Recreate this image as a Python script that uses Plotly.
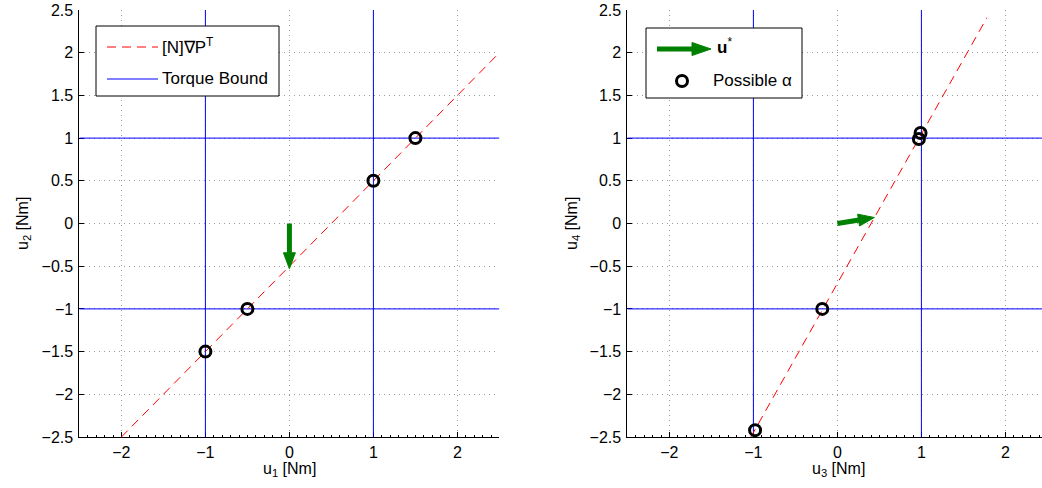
import math
import plotly.graph_objects as go
from plotly.subplots import make_subplots

# ---------------- data ----------------
# left panel (u1, u2)
line1_x = [-2.0, 2.5]
line1_y = [-2.5, 2.0]
alpha1_x = [-1.0, -0.5, 1.0, 1.5]
alpha1_y = [-1.5, -1.0, 0.5, 1.0]
arrow1 = [0.0, 0.0, 0.0, -0.53]      # x0, y0, dx, dy

# right panel (u3, u4)
line2_x = [-1.03, 1.78]
line2_y = [-2.5, 2.41]
alpha2_x = [-0.98, -0.18, 0.97, 0.99]
alpha2_y = [-2.42, -1.0, 0.99, 1.06]
arrow2 = [0.0, 0.0, 0.44, 0.07]

bounds = [-1.0, 1.0]
span = [-2.5, 2.5]

x_ticks = [-2, -1, 0, 1, 2]
y_ticks = [-2.5, -2, -1.5, -1, -0.5, 0, 0.5, 1, 1.5, 2, 2.5]

# ---------------- styling constants ----------------
W, H = 1042, 488
TOP, BOT = 10, 437           # plot area top / bottom in px
T_M = TOP
B_M = H - BOT
PLOT_H = BOT - TOP
SX = 84.0        # px per unit x
SY = PLOT_H / 5.0
L_LEFT = 79.4
R_LEFT = 627.4
FONT = "Liberation Sans, Arial, Helvetica, sans-serif"
RED = "#ff0000"
BLUE = "#0000ff"
GREEN = "#008000"
TICK_FS = 16
LEG_FS = 17


def PX(px):
    return px / W


def PY(py):
    return (BOT - py) / PLOT_H


fig = make_subplots(rows=1, cols=2, horizontal_spacing=0.05)


def add_panel(col, lx, ly, ax_, ay_, arr):
    # torque bounds
    for b in bounds:
        fig.add_trace(go.Scatter(x=[b, b], y=span, mode="lines",
                                 line=dict(color=BLUE, width=1),
                                 showlegend=False, hoverinfo="skip"), row=1, col=col)
        fig.add_trace(go.Scatter(x=span, y=[b, b], mode="lines",
                                 line=dict(color=BLUE, width=1),
                                 showlegend=False, hoverinfo="skip"), row=1, col=col)
    # [N] grad P^T line
    fig.add_trace(go.Scatter(x=lx, y=ly, mode="lines",
                             line=dict(color=RED, width=1, dash="9px,6px"),
                             showlegend=False), row=1, col=col)
    # arrow (quiver)
    x0, y0, dx, dy = arr
    pdx, pdy = dx * SX, dy * SY
    L = math.hypot(pdx, pdy)
    ux, uy = pdx / L, pdy / L
    nx, ny = -uy, ux
    hl, hw = 16.0, 12.0
    tipx, tipy = x0 + dx, y0 + dy
    bx_p, by_p = pdx - ux * hl, pdy - uy * hl
    basex, basey = x0 + bx_p / SX, y0 + by_p / SY
    fig.add_trace(go.Scatter(x=[x0, x0 + (bx_p + ux * 2) / SX], y=[y0, y0 + (by_p + uy * 2) / SY],
                             mode="lines", line=dict(color=GREEN, width=5),
                             showlegend=False, hoverinfo="skip"), row=1, col=col)
    hx = [tipx, basex + nx * hw / 2 / SX, basex - nx * hw / 2 / SX, tipx]
    hy = [tipy, basey + ny * hw / 2 / SY, basey - ny * hw / 2 / SY, tipy]
    fig.add_trace(go.Scatter(x=hx, y=hy, mode="lines", fill="toself",
                             fillcolor=GREEN, line=dict(color=GREEN, width=1),
                             showlegend=False, hoverinfo="skip"), row=1, col=col)
    # possible alpha
    fig.add_trace(go.Scatter(x=ax_, y=ay_, mode="markers",
                             marker=dict(symbol="circle-open", size=11, color="black",
                                         line=dict(width=3, color="black")),
                             showlegend=False), row=1, col=col)


add_panel(1, line1_x, line1_y, alpha1_x, alpha1_y, arrow1)
add_panel(2, line2_x, line2_y, alpha2_x, alpha2_y, arrow2)

axis_common = dict(
    showline=True, linecolor="black", linewidth=1, mirror=False,
    ticks="inside", ticklen=5, tickcolor="black", tickwidth=1,
    showgrid=True, gridcolor="#9a9a9a", gridwidth=1, griddash="1px,4px",
    zeroline=False, tickfont=dict(family=FONT, size=TICK_FS, color="black"),
    automargin=False, ticklabeloverflow="allow", layer="below traces",
)

fig.update_xaxes(axis_common, tickvals=x_ticks, ticklabelstandoff=1,
                 minor=dict(ticks="inside", ticklen=2, dtick=0.1, tickcolor="black", showgrid=False))
fig.update_yaxes(axis_common, tickvals=y_ticks, range=[-2.5, 2.5], ticklabelstandoff=2)

x_right_max = (W - R_LEFT) / SX - 2.5
fig.update_xaxes(domain=[PX(L_LEFT), PX(L_LEFT + 5 * SX)], range=[-2.5, 2.5], row=1, col=1)
fig.update_xaxes(domain=[PX(R_LEFT), 1.0], range=[-2.5, x_right_max], row=1, col=2)

# ---------------- axis titles & manual legends ----------------
shapes = []
annos = []
TITLE_FONT = dict(family=FONT, size=TICK_FS, color="black")
LEG_FONT = dict(family=FONT, size=LEG_FS, color="black")

annos.append(dict(text="u<sub>1</sub> [Nm]", xref="paper", yref="paper", x=PX(289), y=PY(469),
                  xanchor="center", yanchor="middle", showarrow=False, font=TITLE_FONT))
annos.append(dict(text="u<sub>3</sub> [Nm]", xref="paper", yref="paper", x=PX(838), y=PY(469),
                  xanchor="center", yanchor="middle", showarrow=False, font=TITLE_FONT))
annos.append(dict(text="u<sub>2</sub> [Nm]", xref="paper", yref="paper", x=PX(23), y=PY(224),
                  xanchor="center", yanchor="middle", textangle=-90, showarrow=False, font=TITLE_FONT))
annos.append(dict(text="u<sub>4</sub> [Nm]", xref="paper", yref="paper", x=PX(572), y=PY(224),
                  xanchor="center", yanchor="middle", textangle=-90, showarrow=False, font=TITLE_FONT))

# left legend
shapes.append(dict(type="rect", xref="paper", yref="paper", x0=PX(96), x1=PX(279), y0=PY(96), y1=PY(26),
                   fillcolor="white", line=dict(color="black", width=1), layer="above"))
shapes.append(dict(type="line", xref="paper", yref="paper", x0=PX(107), x1=PX(158), y0=PY(47), y1=PY(47),
                   line=dict(color=RED, width=1, dash="9px,6px"), layer="above"))
shapes.append(dict(type="line", xref="paper", yref="paper", x0=PX(107), x1=PX(158), y0=PY(79), y1=PY(79),
                   line=dict(color=BLUE, width=1), layer="above"))
annos.append(dict(text="[N]∇P<sup>T</sup>", xref="paper", yref="paper", x=PX(160), y=PY(46),
                  xanchor="left", yanchor="middle", showarrow=False, font=LEG_FONT))
annos.append(dict(text="Torque Bound", xref="paper", yref="paper", x=PX(160), y=PY(79),
                  xanchor="left", yanchor="middle", showarrow=False, font=LEG_FONT))

# right legend
shapes.append(dict(type="rect", xref="paper", yref="paper", x0=PX(646), x1=PX(802), y0=PY(98), y1=PY(28),
                   fillcolor="white", line=dict(color="black", width=1), layer="above"))
shapes.append(dict(type="line", xref="paper", yref="paper", x0=PX(657), x1=PX(694), y0=PY(49), y1=PY(49),
                   line=dict(color=GREEN, width=5), layer="above"))
shapes.append(dict(type="path", xref="paper", yref="paper",
                   path=f"M {PX(711)} {PY(49)} L {PX(692)} {PY(42.5)} L {PX(692)} {PY(55.5)} Z",
                   fillcolor=GREEN, line=dict(color=GREEN, width=1), layer="above"))
shapes.append(dict(type="circle", xref="paper", yref="paper", x0=PX(676.5), x1=PX(687.5),
                   y0=PY(86.5), y1=PY(75.5), line=dict(color="black", width=3), layer="above"))
annos.append(dict(text="<b>u</b><sup>*</sup>", xref="paper", yref="paper", x=PX(715), y=PY(46),
                  xanchor="left", yanchor="middle", showarrow=False, font=LEG_FONT))
annos.append(dict(text="Possible α", xref="paper", yref="paper", x=PX(711), y=PY(81),
                  xanchor="left", yanchor="middle", showarrow=False, font=LEG_FONT))

fig.update_layout(
    width=W, height=H,
    margin=dict(l=0, r=0, t=T_M, b=B_M),
    plot_bgcolor="white", paper_bgcolor="white",
    showlegend=False,
    shapes=shapes, annotations=annos,
    font=dict(family=FONT, size=TICK_FS, color="black"),
)

fig.write_html("out.html", config={"displayModeBar": False},
               post_script="document.body.style.margin='0px';")
